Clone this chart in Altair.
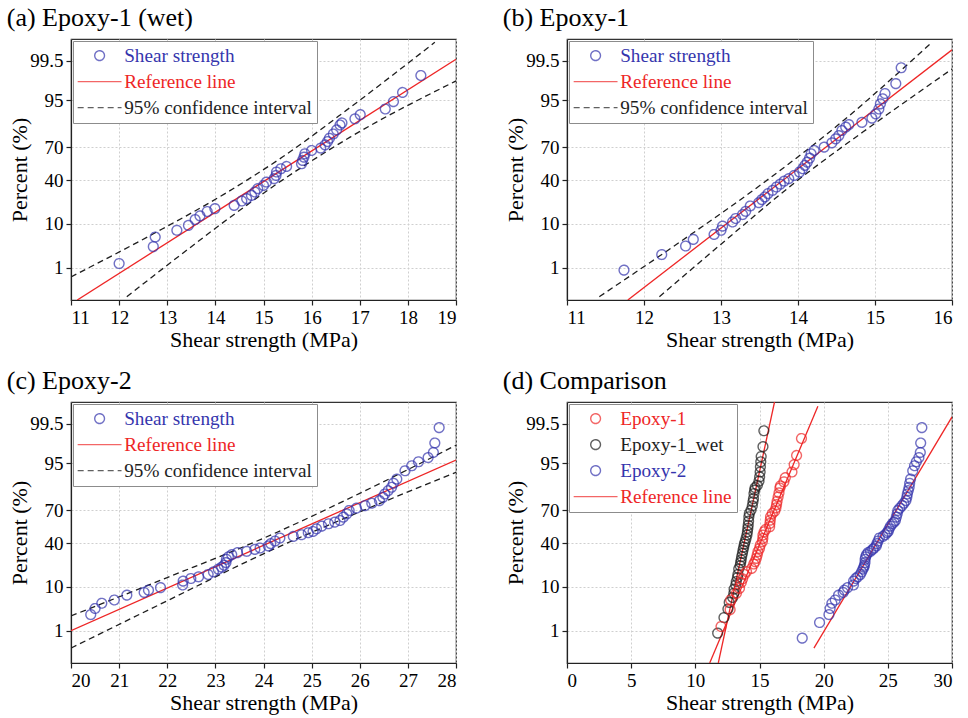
import altair as alt
import pandas as pd
from statistics import NormalDist

_nd = NormalDist()


def probit(p):
    return _nd.inv_cdf(p / 100.0)


FONT = "Liberation Serif"
BLUE = "#3535ad"
RED = "#ee2626"
BLACK = "#1e1e1e"
LINE_SYMBOL = "M-4.5,0L4.5,0"

# ---------------- data ----------------
# (a) Epoxy-1 (wet)
a_x = [12.00, 12.71, 12.75, 13.20, 13.44, 13.58, 13.68, 13.83, 13.99, 14.39, 14.55, 14.65,
       14.75, 14.82, 14.88, 15.00, 15.06, 15.22, 15.26, 15.27, 15.36, 15.48, 15.79, 15.81,
       15.84, 15.86, 16.00, 16.19, 16.28, 16.33, 16.37, 16.45, 16.52, 16.59, 16.63, 16.90,
       17.01, 17.53, 17.70, 17.89, 18.27]
a_pct = [1.3, 3.4, 5.5, 7.5, 9.3, 11.8, 13.6, 16.0, 17.7, 19.8, 22.8, 24.5,
         27.0, 29.7, 32.5, 35.3, 38.3, 41.4, 44.4, 47.6, 50.7, 52.9, 55.4, 58.5,
         61.5, 64.5, 67.4, 69.4, 72.0, 74.6, 77.0, 80.0, 82.6, 85.4, 86.5, 88.5,
         90.3, 92.4, 94.6, 96.6, 98.7]
a_ref_x = [11.13, 19.0]
a_ref_pct = [0.1, 99.55]
a_up_x = [11.0, 12.75, 14.2, 15.4, 16.8, 18.56]
a_up_pct = [0.55, 6.7, 28.4, 61.8, 92.9, 99.87]
a_lo_x = [12.16, 13.2, 14.41, 15.4, 16.8, 19.0]
a_lo_pct = [0.13, 1.83, 14.8, 40.3, 77.8, 98.2]

# (b) Epoxy-1
b_x = [11.74, 12.23, 12.54, 12.64, 12.91, 13.00, 13.02, 13.15, 13.19, 13.28, 13.32, 13.38,
       13.49, 13.53, 13.57, 13.61, 13.67, 13.72, 13.77, 13.82, 13.88, 13.95, 14.02, 14.06,
       14.09, 14.12, 14.15, 14.17, 14.21, 14.34, 14.44, 14.49, 14.53, 14.57, 14.62, 14.66,
       14.83, 14.96, 15.01, 15.05, 15.07, 15.10, 15.13, 15.27, 15.34]
b_pct = [0.86, 2.2, 3.5, 4.9, 6.2, 7.5, 9.0, 10.7, 12.3, 14.3, 16.1, 19.4,
         21.6, 23.8, 25.8, 28.4, 31.1, 33.9, 36.5, 39.2, 41.4, 44.4, 47.6, 50.7,
         53.9, 56.9, 60.6, 64.5, 67.4, 70.2, 73.6, 76.6, 78.9, 82.2, 84.2, 85.6,
         86.8, 88.8, 90.6, 92.4, 94.0, 95.3, 96.4, 97.9, 99.2]
b_ref_x = [11.79, 16.0]
b_ref_pct = [0.1, 99.77]
b_up_x = [11.42, 12.5, 13.5, 14.5, 15.74]
b_up_pct = [0.13, 4.7, 35.0, 84.7, 99.87]
b_lo_x = [12.2, 13.0, 14.0, 15.0, 16.0]
b_lo_pct = [0.13, 3.85, 40.1, 86.3, 99.13]

# (c) Epoxy-2
c_x = [20.41, 20.50, 20.64, 20.90, 21.16, 21.52, 21.61, 21.86, 22.32, 22.33, 22.49, 22.65,
       22.85, 22.96, 23.06, 23.13, 23.18, 23.22, 23.23, 23.27, 23.34, 23.46, 23.65, 23.82,
       23.93, 24.10, 24.15, 24.24, 24.34, 24.62, 24.79, 24.93, 25.03, 25.10, 25.21, 25.35,
       25.48, 25.59, 25.66, 25.73, 25.78, 25.93, 26.11, 26.25, 26.41, 26.48, 26.52, 26.59,
       26.66, 26.70, 26.77, 26.94, 27.08, 27.22, 27.42, 27.53, 27.56, 27.65]
c_pct = [2.6, 3.6, 4.7, 5.5, 6.9, 7.8, 8.6, 9.6, 10.7, 12.5, 13.8, 14.7,
         16.0, 17.6, 19.3, 20.6, 21.9, 23.8, 26.3, 28.2, 30.0, 31.7, 32.8, 34.5,
         35.7, 37.5, 39.6, 42.0, 44.8, 46.3, 47.9, 49.8, 51.0, 53.5, 56.0, 58.2,
         59.7, 61.2, 64.2, 67.1, 69.9, 71.8, 73.8, 75.6, 77.5, 79.8, 81.9, 83.9,
         85.8, 87.8, 89.7, 92.8, 94.3, 95.3, 96.2, 97.1, 98.3, 99.35]
c_ref_x = [20.0, 28.0]
c_ref_pct = [1.0, 95.7]
c_up_x = [20.0, 22.0, 24.0, 26.0, 28.0]
c_up_pct = [2.41, 14.3, 44.6, 82.3, 98.06]
c_lo_x = [20.0, 22.0, 24.0, 26.0, 28.0]
c_lo_pct = [0.31, 5.3, 30.7, 68.7, 92.3]

# (d) Comparison (extra low Epoxy-2 points seen only in panel d)
d_e2_extra_x = [18.33, 19.68]
d_e2_extra_pct = [0.62, 1.65]
d_ref1_x = [11.12, 19.55]      # through the red series
d_ref1_pct = [0.1, 99.86]
d_refw_x = [11.79, 16.17]      # through the black series
d_refw_pct = [0.1, 99.9]
d_ref2_x = [19.24, 30.0]       # through the blue series
d_ref2_pct = [0.31, 99.69]

Y_TICKS = [0.1, 1, 10, 40, 70, 95, 99.5]
Y_LABEL_EXPR = ("datum.value < -3 ? '0.1' : datum.value < -2 ? '1' : datum.value < -1 ? '10' : "
                "datum.value < 0 ? '40' : datum.value < 1 ? '70' : datum.value < 2 ? '95' : '99.5'")

AXIS_STYLE = dict(
    labelFont=FONT, labelFontSize=19, labelColor="black", labelPadding=3,
    titleFont=FONT, titleFontSize=22, titleFontWeight="normal", titleColor="black",
    domainColor="#222", domainWidth=1.2, tickColor="#222", tickWidth=1.2,
    gridColor="#cfcfcf", gridDash=[2, 2], gridWidth=1,
)
LEGEND_STYLE = dict(
    title=None, orient="top-left", offset=2, strokeColor="#8c8c8c", fillColor="white", padding=5,
    labelFont=FONT, labelFontSize=19.2, labelLimit=400, symbolStrokeWidth=1.4, symbolSize=95,
    symbolOffset=12, labelOffset=15, rowPadding=6,
)


def pts(xs, ps, series):
    return pd.DataFrame({"x": xs, "z": [probit(p) for p in ps], "series": series})


def line(xs, ps, part):
    return pd.DataFrame({"x": xs, "z": [probit(p) for p in ps], "part": part})


def panel(title, points_df, layers, domain, colors, shapes, dashes, xdom, xstep, xmajor, label_color_expr):
    xvals = []
    v = xdom[0]
    while v <= xdom[1] + 1e-9:
        xvals.append(round(v, 3))
        v += xstep
    major_test = f"abs(datum.value % {xmajor}) < 0.001"
    xenc = alt.X("x:Q", scale=alt.Scale(domain=xdom, nice=False, zero=False),
                 axis=alt.Axis(values=xvals, title="Shear strength (MPa)", format="d", titlePadding=2,
                               labelExpr=f"{major_test} ? datum.label : ''",
                               tickSize={"condition": {"test": major_test, "value": 5}, "value": -4},
                               **AXIS_STYLE))
    yenc = alt.Y("z:Q", scale=alt.Scale(domain=[-3.09, 3.09], nice=False, zero=False),
                 axis=alt.Axis(values=[probit(p) for p in Y_TICKS], title="Percent (%)", tickSize=5,
                               labelExpr=Y_LABEL_EXPR, titlePadding=-2, **AXIS_STYLE))
    legend = alt.Legend(labelColor=alt.ExprRef(label_color_expr), **LEGEND_STYLE)
    p = alt.Chart(points_df).mark_point(filled=False, size=95, strokeWidth=1.4).encode(
        x=xenc, y=yenc,
        color=alt.Color("series:N", scale=alt.Scale(domain=domain, range=colors), legend=legend),
        shape=alt.Shape("series:N", scale=alt.Scale(domain=domain, range=shapes), legend=legend),
        strokeDash=alt.StrokeDash("series:N", scale=alt.Scale(domain=domain, range=dashes), legend=legend),
    )
    line_layers = []
    for df, col, dash in layers:
        kw = dict(clip=True, strokeWidth=1.3, interpolate="monotone", color=col)
        if dash:
            kw["strokeDash"] = dash
        line_layers.append(alt.Chart(df).mark_line(**kw).encode(x="x:Q", y="z:Q", detail="part:N"))
    return alt.layer(*line_layers, p).properties(
        width=385, height=261,
        title=alt.Title(title, anchor="start", frame="bounds", fontSize=26, font=FONT,
                        fontWeight="normal", color="black", offset=8, dx=-2),
    )


DOM3 = ["Shear strength", "Reference line", "95% confidence interval"]
COL3 = [BLUE, RED, BLACK]
SHP3 = ["circle", LINE_SYMBOL, LINE_SYMBOL]
DSH3 = [[1, 0], [1, 0], [6, 4]]
LBL3 = f"datum.label == 'Shear strength' ? '{BLUE}' : datum.label == 'Reference line' ? '{RED}' : '{BLACK}'"


def single(title, xs, ps, rx, rp, ux, up, lx, lp, xdom):
    pdf = pts(xs, ps, "Shear strength")
    ci = pd.concat([line(ux, up, "upper"), line(lx, lp, "lower")])
    layers = [(line(rx, rp, "ref"), RED, None), (ci, BLACK, [6, 4])]
    return panel(title, pdf, layers, DOM3, COL3, SHP3, DSH3, xdom, 0.5, 1, LBL3)


pa = single("(a) Epoxy-1 (wet)", a_x, a_pct, a_ref_x, a_ref_pct, a_up_x, a_up_pct, a_lo_x, a_lo_pct, [11, 19])
pb = single("(b) Epoxy-1", b_x, b_pct, b_ref_x, b_ref_pct, b_up_x, b_up_pct, b_lo_x, b_lo_pct, [11, 16])
pc = single("(c) Epoxy-2", c_x, c_pct, c_ref_x, c_ref_pct, c_up_x, c_up_pct, c_lo_x, c_lo_pct, [20, 28])

DOM4 = ["Epoxy-1", "Epoxy-1_wet", "Epoxy-2", "Reference line"]
COL4 = [RED, BLACK, BLUE, RED]
SHP4 = ["circle", "circle", "circle", LINE_SYMBOL]
DSH4 = [[1, 0], [1, 0], [1, 0], [1, 0]]
LBL4 = f"datum.label == 'Epoxy-1_wet' ? '{BLACK}' : datum.label == 'Epoxy-2' ? '{BLUE}' : '{RED}'"
d_pts = pd.concat([
    pts(b_x, b_pct, "Epoxy-1_wet"),
    pts(a_x, a_pct, "Epoxy-1"),
    pts(d_e2_extra_x + c_x, d_e2_extra_pct + c_pct, "Epoxy-2"),
])
d_lines = pd.concat([
    line(d_ref1_x, d_ref1_pct, "r1"),
    line(d_refw_x, d_refw_pct, "rw"),
    line(d_ref2_x, d_ref2_pct, "r2"),
])
pd_ = panel("(d) Comparison", d_pts, [(d_lines, RED, None)], DOM4, COL4, SHP4, DSH4, [0, 30], 2.5, 5, LBL4)

res = dict(color="independent", shape="independent", strokeDash="independent",
           x="independent", y="independent")
leg = dict(color="independent", shape="independent", strokeDash="independent")
top = alt.hconcat(pa, pb, spacing=44).resolve_scale(**res).resolve_legend(**leg)
bot = alt.hconcat(pc, pd_, spacing=44).resolve_scale(**res).resolve_legend(**leg)
chart = alt.vconcat(top, bot, spacing=16).resolve_scale(**res).resolve_legend(**leg).properties(
    padding={"left": 6, "top": 4, "right": 5, "bottom": 5}
).configure_view(stroke="#333", strokeWidth=1.2)

chart.save("out.html", embed_options={"renderer": "svg", "actions": False})
